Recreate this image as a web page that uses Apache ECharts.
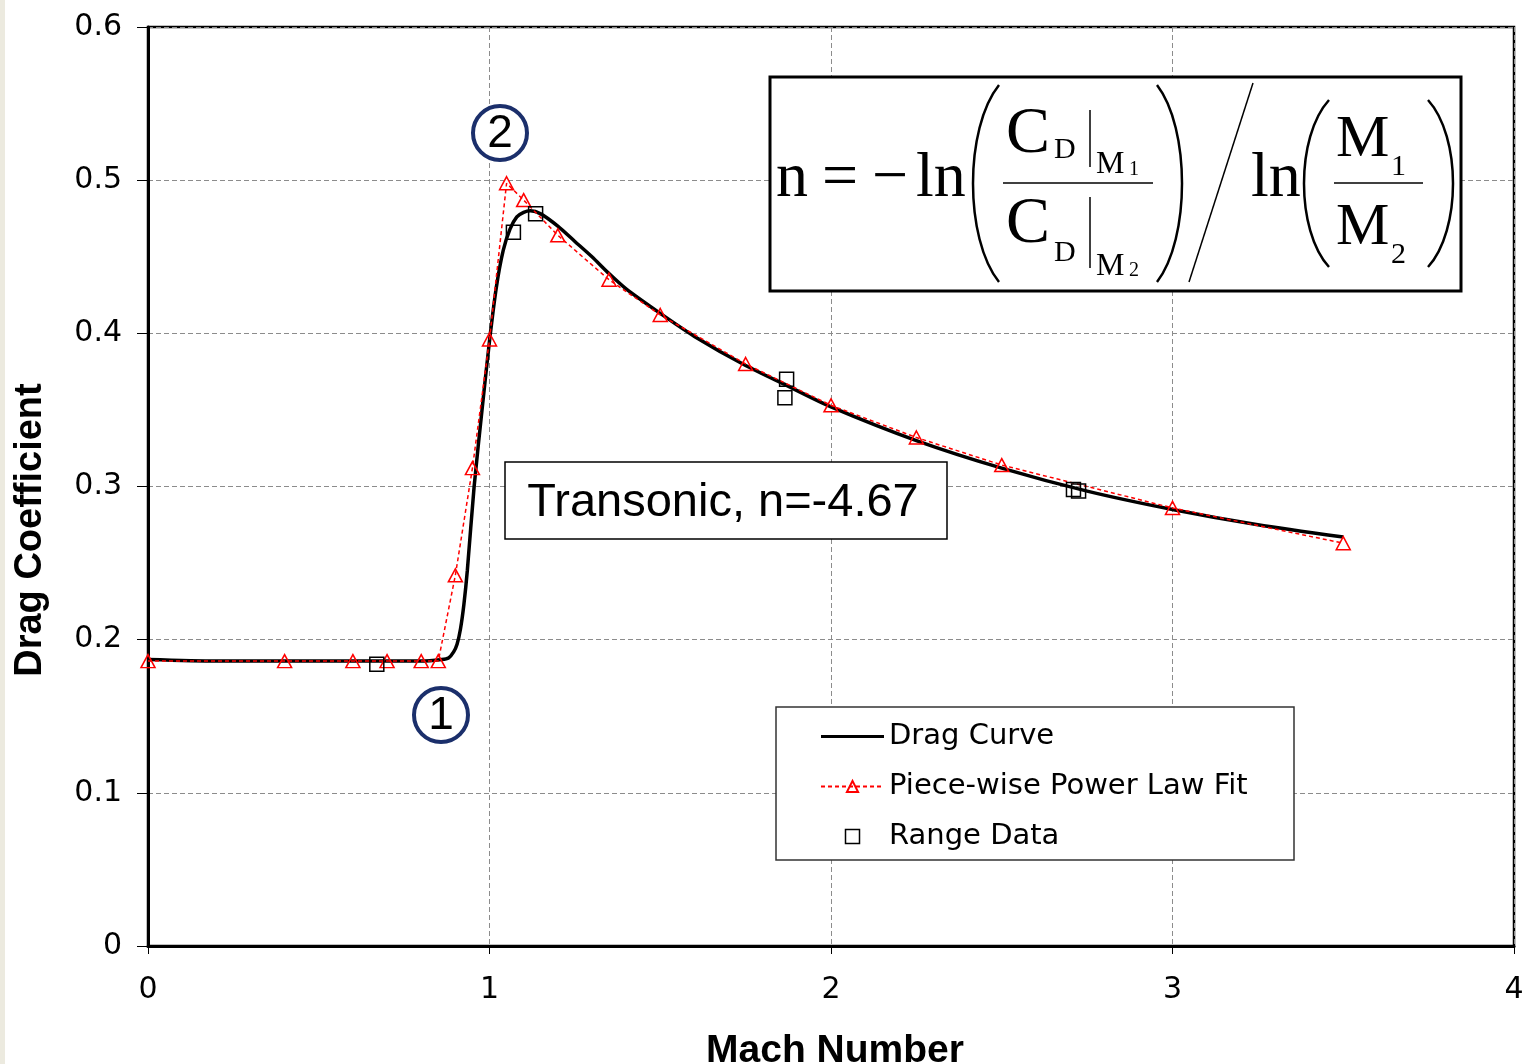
<!DOCTYPE html>
<html>
<head>
<meta charset="utf-8">
<style>
html,body{margin:0;padding:0;background:#fff;}
#chart{width:1528px;height:1064px;}
</style>
<script src="https://cdn.jsdelivr.net/npm/echarts@6/dist/echarts.min.js"></script>
</head>
<body>
<div id="chart"></div>
<script>
let chart = echarts.init(document.getElementById('chart'));

/* drag curve (smooth black line) */
let dragMach = [0, 0.2, 0.4, 0.6, 0.8, 0.86, 0.88, 0.895, 0.905, 0.915, 0.925, 0.935, 0.955, 0.98, 1.0, 1.02, 1.04, 1.06, 1.08, 1.1, 1.12, 1.15, 1.2, 1.25, 1.3, 1.35, 1.4, 1.5, 1.6, 1.75, 1.87, 2.0, 2.25, 2.5, 2.75, 3.0, 3.25, 3.5];
let dragCd = [0.187, 0.186, 0.186, 0.186, 0.186, 0.187, 0.188, 0.192, 0.197, 0.207, 0.223, 0.245, 0.300, 0.354, 0.395, 0.430, 0.454, 0.468, 0.476, 0.479, 0.480, 0.478, 0.470, 0.460, 0.450, 0.439, 0.429, 0.413, 0.398, 0.379, 0.366, 0.352, 0.330, 0.312, 0.297, 0.285, 0.275, 0.267];

/* piece-wise power law fit (red triangles) */
let fitMach = [0, 0.4, 0.6, 0.7, 0.8, 0.85, 0.9, 0.95, 1.0, 1.05, 1.1, 1.2, 1.35, 1.5, 1.75, 2.0, 2.25, 2.5, 3.0, 3.5];
let fitCd = [0.186, 0.186, 0.186, 0.186, 0.186, 0.186, 0.242, 0.312, 0.396, 0.498, 0.487, 0.464, 0.435, 0.412, 0.380, 0.353, 0.332, 0.314, 0.286, 0.263];

/* range data (squares) */
let rangeMach = [0.67, 1.07, 1.135, 1.865, 1.87, 2.71, 2.725];
let rangeCd = [0.184, 0.466, 0.478, 0.358, 0.370, 0.298, 0.297];

let xTicks = {min: 0, max: 4, step: 1};
let yTicks = {min: 0, max: 0.6, step: 0.1};

function pairs(xs, ys) {
    return xs.map(function (x, i) { return [x, ys[i]]; });
}

let tickFont = 'DejaVu Sans';
let titleFont = 'Liberation Sans';
let serif = 'Liberation Serif';

/* formula pieces */
function txt(s, x, y, size) {
    return {
        type: 'text', x: x, y: y, z: 11,
        style: {text: s, font: size + 'px "' + serif + '"', fill: '#000', textAlign: 'left', verticalAlign: 'middle'}
    };
}
function seg(x1, y1, x2, y2, w) {
    return {type: 'line', z: 11, shape: {x1: x1, y1: y1, x2: x2, y2: y2}, style: {stroke: '#000', lineWidth: w}};
}
function paren(x, yTop, yBot, bulge) {
    let cx = (8 * bulge - 2 * x) / 6;
    let h = yBot - yTop;
    return {
        type: 'bezierCurve', z: 11,
        shape: {x1: x, y1: yTop, x2: x, y2: yBot, cpx1: cx, cpy1: yTop + h * 0.22, cpx2: cx, cpy2: yBot - h * 0.22},
        style: {stroke: '#000', lineWidth: 2.5, fill: null}
    };
}

let formula = [
    {type: 'rect', z: 10, shape: {x: 770, y: 77, width: 691, height: 214}, style: {fill: '#fff', stroke: '#000', lineWidth: 3}},
    txt('n', 776, 179, 64),
    txt('=', 822, 179, 64),
    txt('\u2212', 872, 179, 64),
    txt('ln', 916, 179, 64),
    paren(999, 85, 282, 973),
    txt('C', 1006, 135, 66),
    txt('D', 1054, 150, 30),
    seg(1090, 110, 1090, 167, 1.5),
    txt('M', 1096, 165, 32),
    txt('1', 1129, 170, 20),
    seg(1003, 183, 1153, 183, 1.5),
    txt('C', 1006, 225, 66),
    txt('D', 1054, 253, 30),
    seg(1090, 197, 1090, 268, 1.5),
    txt('M', 1096, 267, 32),
    txt('2', 1129, 271, 20),
    paren(1157, 85, 282, 1182),
    seg(1253, 83, 1189, 282, 1.5),
    txt('ln', 1251, 179, 64),
    paren(1329, 100, 267, 1304),
    txt('M', 1336, 140, 60),
    txt('1', 1391, 167, 30),
    seg(1334, 183, 1423, 183, 1.5),
    txt('M', 1336, 228, 60),
    txt('2', 1391, 255, 30),
    paren(1428, 100, 267, 1453)
];

let notes = [
    {type: 'rect', z: 0, shape: {x: 0, y: 0, width: 5, height: 1064}, style: {fill: '#eceadf'}},
    {type: 'rect', z: 3, shape: {x: 776, y: 707, width: 518, height: 153}, style: {fill: '#fff', stroke: '#333', lineWidth: 1.5}},
    {type: 'rect', z: 10, shape: {x: 505, y: 462, width: 442, height: 77}, style: {fill: '#fff', stroke: '#000', lineWidth: 1.5}},
    {type: 'text', z: 11, x: 723, y: 503, style: {text: 'Transonic, n=-4.67', font: '47px "' + titleFont + '"', fill: '#000', textAlign: 'center', verticalAlign: 'middle'}},
    {type: 'circle', z: 10, shape: {cx: 500, cy: 133, r: 27}, style: {fill: '#fff', stroke: '#1b2f6b', lineWidth: 4}},
    {type: 'text', z: 11, x: 500, y: 134, style: {text: '2', font: '46px "' + titleFont + '"', fill: '#000', textAlign: 'center', verticalAlign: 'middle'}},
    {type: 'circle', z: 10, shape: {cx: 441, cy: 715, r: 27}, style: {fill: '#fff', stroke: '#1b2f6b', lineWidth: 4}},
    {type: 'text', z: 11, x: 441, y: 716, style: {text: '1', font: '46px "' + titleFont + '"', fill: '#000', textAlign: 'center', verticalAlign: 'middle'}},
    /* y axis title */
    {type: 'text', z: 11, x: 31, y: 530, rotation: Math.PI / 2, style: {text: 'Drag Coefficient', font: 'bold 38px "' + titleFont + '"', fill: '#000', textAlign: 'center', verticalAlign: 'middle'}}
];

let option = {
    animation: false,
    backgroundColor: '#fff',
    grid: {
        left: 148, right: 14, top: 27, bottom: 118,
        containLabel: false,
        outerBoundsMode: 'none',
        show: true, borderColor: '#000', borderWidth: 2.5, backgroundColor: 'transparent'
    },
    legend: {
        orient: 'vertical',
        left: 820, top: 722,
        padding: 0,
        itemWidth: 63, itemHeight: 14, itemGap: 21, itemTextGap: 9,
        selectedMode: false,
        z: 5,
        textStyle: {fontFamily: tickFont, fontSize: 29, color: '#000'},
        data: [
            {name: 'Drag Curve', icon: 'path://M0,0H63V3H0Z'},
            {name: 'Piece-wise Power Law Fit'},
            {name: 'Range Data', icon: 'path://M0,0H10V10H0Z', itemStyle: {color: '#fff', borderColor: '#000', borderWidth: 1.5}}
        ]
    },
    xAxis: {
        type: 'value', min: xTicks.min, max: xTicks.max, interval: xTicks.step,
        name: 'Mach Number', nameLocation: 'middle', nameGap: 86,
        nameTextStyle: {fontFamily: titleFont, fontSize: 39, fontWeight: 'bold', color: '#000', padding: [0, 0, 0, 8]},
        axisLine: {show: true, lineStyle: {color: '#000', width: 3}},
        axisTick: {show: true, length: 8, lineStyle: {color: '#000', width: 1}},
        axisLabel: {fontFamily: tickFont, fontSize: 30, color: '#000', margin: 29},
        splitLine: {show: true, lineStyle: {color: '#8c8c8c', width: 1, type: [5, 3]}}
    },
    yAxis: {
        type: 'value', min: yTicks.min, max: yTicks.max, interval: yTicks.step,
        axisLine: {show: true, lineStyle: {color: '#000', width: 3}},
        axisTick: {show: true, length: 11, lineStyle: {color: '#000', width: 1}},
        axisLabel: {fontFamily: tickFont, fontSize: 30, color: '#000', margin: 26},
        splitLine: {show: true, lineStyle: {color: '#8c8c8c', width: 1, type: [5, 3]}}
    },
    series: [
        {
            name: 'Drag Curve',
            type: 'line',
            data: pairs(dragMach, dragCd),
            symbol: 'none',
            smooth: 0.25,
            color: '#000',
            lineStyle: {color: '#000', width: 3.5},
            z: 2
        },
        {
            name: 'Piece-wise Power Law Fit',
            type: 'line',
            data: pairs(fitMach, fitCd),
            symbol: 'triangle',
            symbolSize: [14, 13],
            showAllSymbol: true,
            color: '#ff0000',
            lineStyle: {color: '#ff0000', width: 1.5, type: [4, 3]},
            itemStyle: {color: 'rgba(255,255,255,0)', borderColor: '#ff0000', borderWidth: 1.5},
            z: 3
        },
        {
            name: 'Range Data',
            type: 'scatter',
            data: pairs(rangeMach, rangeCd),
            symbol: 'rect',
            symbolSize: 14,
            itemStyle: {color: 'rgba(255,255,255,0)', borderColor: '#000', borderWidth: 1.5, opacity: 1},
            z: 4
        }
    ],
    graphic: notes.concat(formula)
};

chart.setOption(option);
</script>
</body>
</html>
